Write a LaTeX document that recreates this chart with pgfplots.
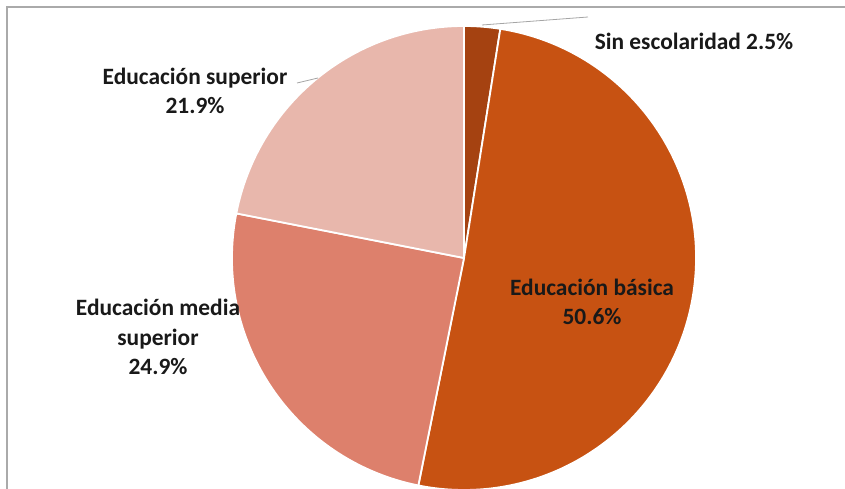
\documentclass[border=0pt]{standalone}
\usepackage{pgfplots}
\usepackage{pgfplotstable}
\pgfplotsset{compat=1.18}
\usepackage{fontspec}
\setmainfont{Carlito}
\definecolor{cSin}{RGB}{165,66,17}
\definecolor{cBas}{RGB}{199,82,18}
\definecolor{cMed}{RGB}{221,128,108}
\definecolor{cSup}{RGB}{232,183,172}
\definecolor{frame}{RGB}{170,170,170}
\definecolor{lead}{RGB}{165,165,165}
\pgfplotstableread{
key value
Sin 2.5
Bas 50.6
Med 24.9
Sup 21.9
}\piedata
\begin{document}
\begin{tikzpicture}
\pgfplotstablegetelem{0}{value}\of\piedata \let\vA\pgfplotsretval
\pgfplotstablegetelem{1}{value}\of\piedata \let\vB\pgfplotsretval
\pgfplotstablegetelem{2}{value}\of\piedata \let\vC\pgfplotsretval
\pgfplotstablegetelem{3}{value}\of\piedata \let\vD\pgfplotsretval
\pgfmathsetmacro{\tot}{\vA+\vB+\vC+\vD}
\pgfmathsetmacro{\aA}{90}
\pgfmathsetmacro{\aB}{\aA-360*(\vA/\tot)}
\pgfmathsetmacro{\aC}{\aB-360*(\vB/\tot)}
\pgfmathsetmacro{\aD}{\aC-360*(\vC/\tot)}
\pgfmathsetmacro{\aE}{\aD-360*(\vD/\tot)}
\begin{axis}[
  width=845bp, height=489bp, scale only axis,
  xmin=0, xmax=845, ymin=0, ymax=489,
  hide axis,
]
\addplot[draw=none, forget plot] coordinates {(0,0) (845,489)};
\fill[cSin, draw=white, line width=1.8bp] (axis cs:464,231) -- ++(\aA:232bp) arc[start angle=\aA, end angle=\aB, radius=232bp] -- cycle;
\fill[cBas, draw=white, line width=1.8bp] (axis cs:464,231) -- ++(\aB:232bp) arc[start angle=\aB, end angle=\aC, radius=232bp] -- cycle;
\fill[cMed, draw=white, line width=1.8bp] (axis cs:464,231) -- ++(\aC:232bp) arc[start angle=\aC, end angle=\aD, radius=232bp] -- cycle;
\fill[cSup, draw=white, line width=1.8bp] (axis cs:464,231) -- ++(\aD:232bp) arc[start angle=\aD, end angle=\aE, radius=232bp] -- cycle;
\draw[frame, line width=1.5bp] (axis cs:7,0) -- (axis cs:7,482) -- (axis cs:845,482);
\draw[lead, line width=0.8bp] (axis cs:482,464) -- (axis cs:588,472);
\draw[lead, line width=0.8bp] (axis cs:297,406) -- (axis cs:318,411);
\begin{scope}[every node/.style={font=\bfseries\fontsize{23.5}{29.5}\selectfont, align=center, text=black!90, inner sep=0pt}]
\node at (axis cs:694,448) {Sin escolaridad 2.5\%};
\node at (axis cs:195,398) {Educación superior\\21.9\%};
\node at (axis cs:158,152) {Educación media\\superior\\24.9\%};
\node at (axis cs:592,187) {Educación básica\\50.6\%};
\end{scope}
\end{axis}
\end{tikzpicture}
\end{document}
